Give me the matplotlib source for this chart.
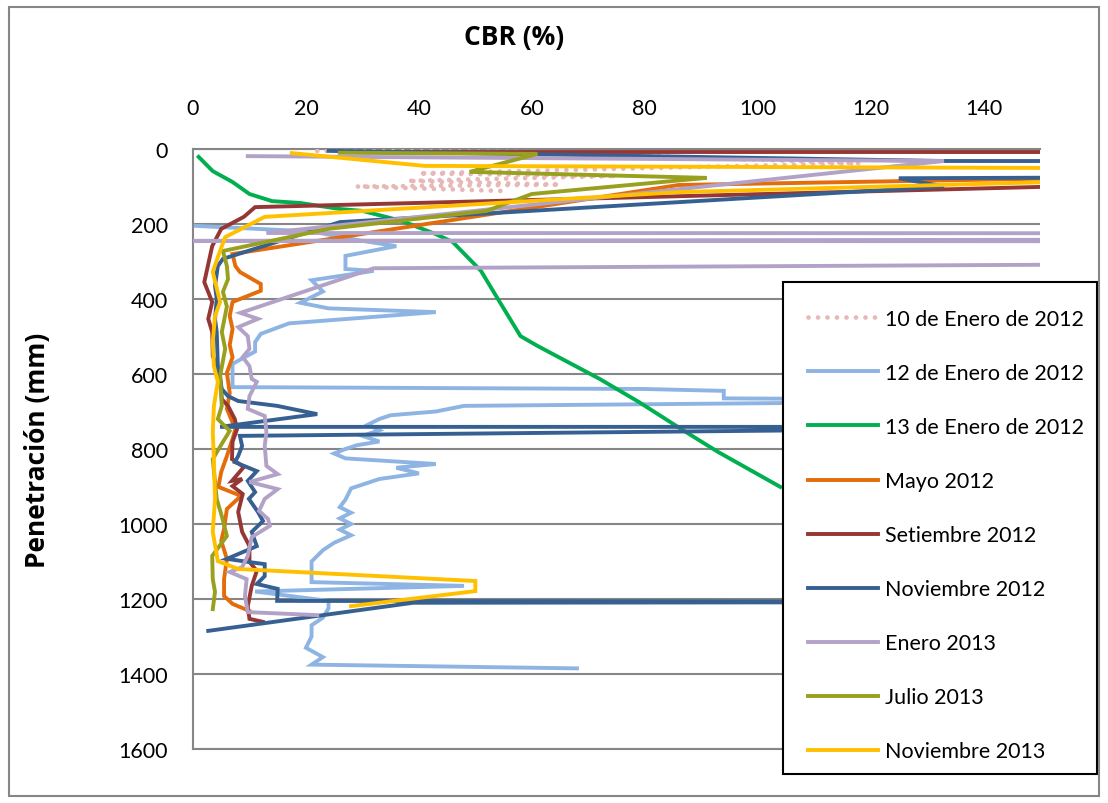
import matplotlib
matplotlib.use("Agg")
import matplotlib.pyplot as plt
from matplotlib.patches import Rectangle

# ---------------------------------------------------------------- data
# CBR (%) against penetration depth (mm)
ene10_cbr = [22, 60, 118, 40, 75, 38, 65, 29, 55]
ene10_pen = [5, 8, 38, 65, 72, 85, 95, 100, 112]

ene12_cbr = [0.5, 21, 30, 36, 27, 27, 32, 21, 23, 19, 24, 43, 17, 12, 11, 11, 7, 7, 7,
             80, 94, 94, 160, 48, 43, 35, 33, 31, 33, 30, 33, 29, 27, 25, 27, 43, 36,
             40, 33, 28, 27, 26, 28, 26, 28, 26, 28, 25, 23, 21, 21, 21, 48, 11, 24,
             24, 23, 21, 21, 20, 23, 21, 68]
ene12_pen = [205, 220, 245, 259, 285, 320, 325, 350, 380, 410, 425, 435, 465, 493, 515,
             540, 573, 605, 635, 640, 645, 665, 670, 685, 700, 710, 720, 735, 750, 765,
             780, 790, 800, 812, 825, 840, 850, 865, 880, 905, 935, 955, 970, 985, 1000,
             1015, 1030, 1050, 1070, 1100, 1120, 1155, 1165, 1180, 1205, 1225, 1250,
             1270, 1300, 1330, 1355, 1375, 1385]

ene13_cbr = [1, 3.5, 7, 10, 14, 19, 26, 30, 37, 43, 46, 51, 54, 58, 61, 72, 79, 87, 93, 104]
ene13_pen = [21, 59, 88, 120, 139, 144, 160, 165, 192, 227, 248, 325, 400, 499, 525, 613,
             675, 752, 808, 901]

may12_cbr = [300, 86, 7, 7.5, 8.3, 12, 12, 7, 6.5, 7, 6.5, 7, 6, 6.5, 6, 7.5, 7, 6, 5,
             4.5, 8.5, 6, 5.5, 5, 6, 5.5, 5.5, 7, 10]
may12_pen = [40, 96, 280, 312, 328, 360, 378, 408, 445, 480, 523, 555, 597, 650, 693, 747,
             773, 819, 861, 901, 925, 960, 1013, 1045, 1093, 1147, 1192, 1213, 1232]

set12_cbr = [27, 300, 300, 11, 9, 5, 3.4, 2, 3.4, 2.7, 3.4, 3.5, 4.8, 5.1, 6.2, 7.4, 7.8,
             7, 6.9, 9, 6.9, 8.7, 7, 8.8, 8, 8.7, 10, 10, 11.3, 10.4, 9.7, 10, 12.4]
set12_pen = [8, 8, 43, 155, 181, 213, 259, 355, 408, 453, 488, 552, 605, 667, 685, 720,
             747, 781, 827, 848, 885, 880, 899, 920, 968, 1021, 1059, 1101, 1125, 1165,
             1219, 1253, 1261]

nov12_cbr = [24, 133, 900, 125, 133, 26, 5.3, 4.4, 3.9, 4.2, 3.9, 4.2, 4.4, 5.1, 6.2, 8,
             14.9, 22, 4.8, 170, 8.3, 8.7, 8, 7.4, 11.3, 9.7, 11, 9.9, 11.5, 12.4, 10.4,
             11.3, 6, 9.7, 12.7, 12.7, 11.3, 15, 14.9, 170, 39, 2.7]
nov12_pen = [5, 32, 35, 78, 100, 195, 293, 312, 365, 400, 453, 488, 579, 640, 659, 672,
             685, 707, 741, 741, 765, 792, 819, 835, 859, 885, 915, 933, 968, 992, 1021,
             1059, 1093, 1101, 1107, 1139, 1160, 1173, 1205, 1208, 1210, 1285]

ene13b_cbr = [9.7, 133, 13, 900, 0, 900, 32, 8.4, 11.5, 8, 9.7, 10, 8.8, 10, 10.4, 11.3,
              10, 9.7, 12.7, 13, 12.7, 13, 15, 10, 15, 12.7, 11.7, 13.3, 13.6, 10.4, 9.7,
              8.7, 6.5, 9.5, 9.2, 9.7, 22]
ene13b_pen = [19, 32, 224, 228, 245, 250, 318, 437, 453, 475, 499, 533, 555, 579, 613, 621,
              659, 693, 712, 755, 792, 845, 867, 888, 907, 933, 965, 987, 1005, 1035, 1085,
              1115, 1128, 1147, 1192, 1235, 1243]

jul13_cbr = [26, 61, 49, 91, 60, 52, 24, 5.3, 6.0, 6.2, 5.3, 6.0, 5.1, 5.7, 4.8, 5.1, 4.4,
             6.5, 5.3, 3.5, 4.2, 5.1, 6, 3.4, 3.5, 3.9, 3.5]
jul13_pen = [10, 13, 61, 77, 120, 165, 213, 272, 312, 347, 381, 420, 488, 533, 605, 685,
             720, 752, 781, 827, 933, 979, 1032, 1085, 1147, 1181, 1227]

nov13_cbr = [17.5, 41, 300, 220, 86, 12.7, 5.7, 4.4, 3.5, 4.8, 3.9, 3.5, 3.7, 4.4, 3.7,
             3.5, 3.7, 3.9, 3.5, 4.4, 8, 50, 50, 28]
nov13_pen = [11, 45, 58, 60, 115, 181, 235, 288, 328, 408, 445, 515, 579, 621, 685, 755,
             827, 933, 1021, 1099, 1120, 1152, 1179, 1219]

labels = ['10 de Enero de 2012', '12 de Enero de 2012', '13 de Enero de 2012',
          'Mayo 2012', 'Setiembre 2012', 'Noviembre 2012', 'Enero 2013',
          'Julio 2013', 'Noviembre 2013']
colors = ['#E6B9B8', '#8EB4E3', '#00B050', '#E46C0A', '#953735', '#376092',
          '#B3A2C7', '#98A01E', '#FFC000']
series = [(ene10_cbr, ene10_pen), (ene12_cbr, ene12_pen), (ene13_cbr, ene13_pen),
          (may12_cbr, may12_pen), (set12_cbr, set12_pen), (nov12_cbr, nov12_pen),
          (ene13b_cbr, ene13b_pen), (jul13_cbr, jul13_pen), (nov13_cbr, nov13_pen)]

# ---------------------------------------------------------------- figure
plt.rcParams['font.family'] = ['Lato', 'DejaVu Sans']
W, H = 1108, 804
fig = plt.figure(figsize=(W / 100, H / 100), dpi=100)
ax = fig.add_axes([193 / W, 1 - 750 / H, (1040 - 193) / W, 600 / H])

for i, (x, y) in enumerate(series):
    if i == 0:
        ax.plot(x, y, color=colors[i], lw=3.4, linestyle=(0, (0.01, 2.0)),
                dash_capstyle='round', label=labels[i], zorder=3 + i)
    else:
        ax.plot(x, y, color=colors[i], lw=2.8, label=labels[i],
                solid_joinstyle='miter', zorder=3 + i)

ax.set_xlim(0, 150)
ax.set_ylim(1600, 0)
ax.set_xticks(range(0, 141, 20))
ax.set_yticks(range(0, 1601, 200))
ax.xaxis.tick_top()
ax.tick_params(axis='both', length=0, labelsize=15.5, colors='black')
ax.tick_params(axis='x', pad=22)
ax.tick_params(axis='y', pad=18)
ax.grid(axis='y', color='#868686', lw=1.5, zorder=1)
for side in ['left', 'top', 'bottom']:
    ax.spines[side].set_color('#868686')
    ax.spines[side].set_linewidth(1.5)
ax.spines['right'].set_visible(False)

bold = ['Open Sans', 'DejaVu Sans']
fig.text(514 / W, 1 - 38 / H, 'CBR (%)', fontsize=19, fontweight='bold',
         family=bold, ha='center', va='center')
fig.text(38 / W, 1 - 450 / H, 'Penetración (mm)', fontsize=19, fontweight='bold',
         family=bold, ha='center', va='center', rotation=90)

# legend box drawn as its own patch so its edges sit where the reference has them
box = Rectangle((783 / W, 1 - 775 / H), (1097 - 783) / W, (775 - 283) / H,
                transform=fig.transFigure, facecolor='white', edgecolor='black',
                lw=1.5, clip_on=False, zorder=19)
ax.add_patch(box)
leg = ax.legend(loc='upper left', bbox_to_anchor=(808 / W, 1 - 310 / H),
                bbox_transform=fig.transFigure, fontsize=15.5, frameon=False,
                labelspacing=1.58, handlelength=3.25, handletextpad=0.33,
                borderpad=0, borderaxespad=0)
leg.set_zorder(20)

# outer chart border
fig.patches.append(Rectangle((9 / W, 1 - 797 / H), 1090 / W, 789 / H,
                             transform=fig.transFigure, fill=False,
                             edgecolor='#868686', lw=1.5))

fig.savefig('out.png', dpi=100)
